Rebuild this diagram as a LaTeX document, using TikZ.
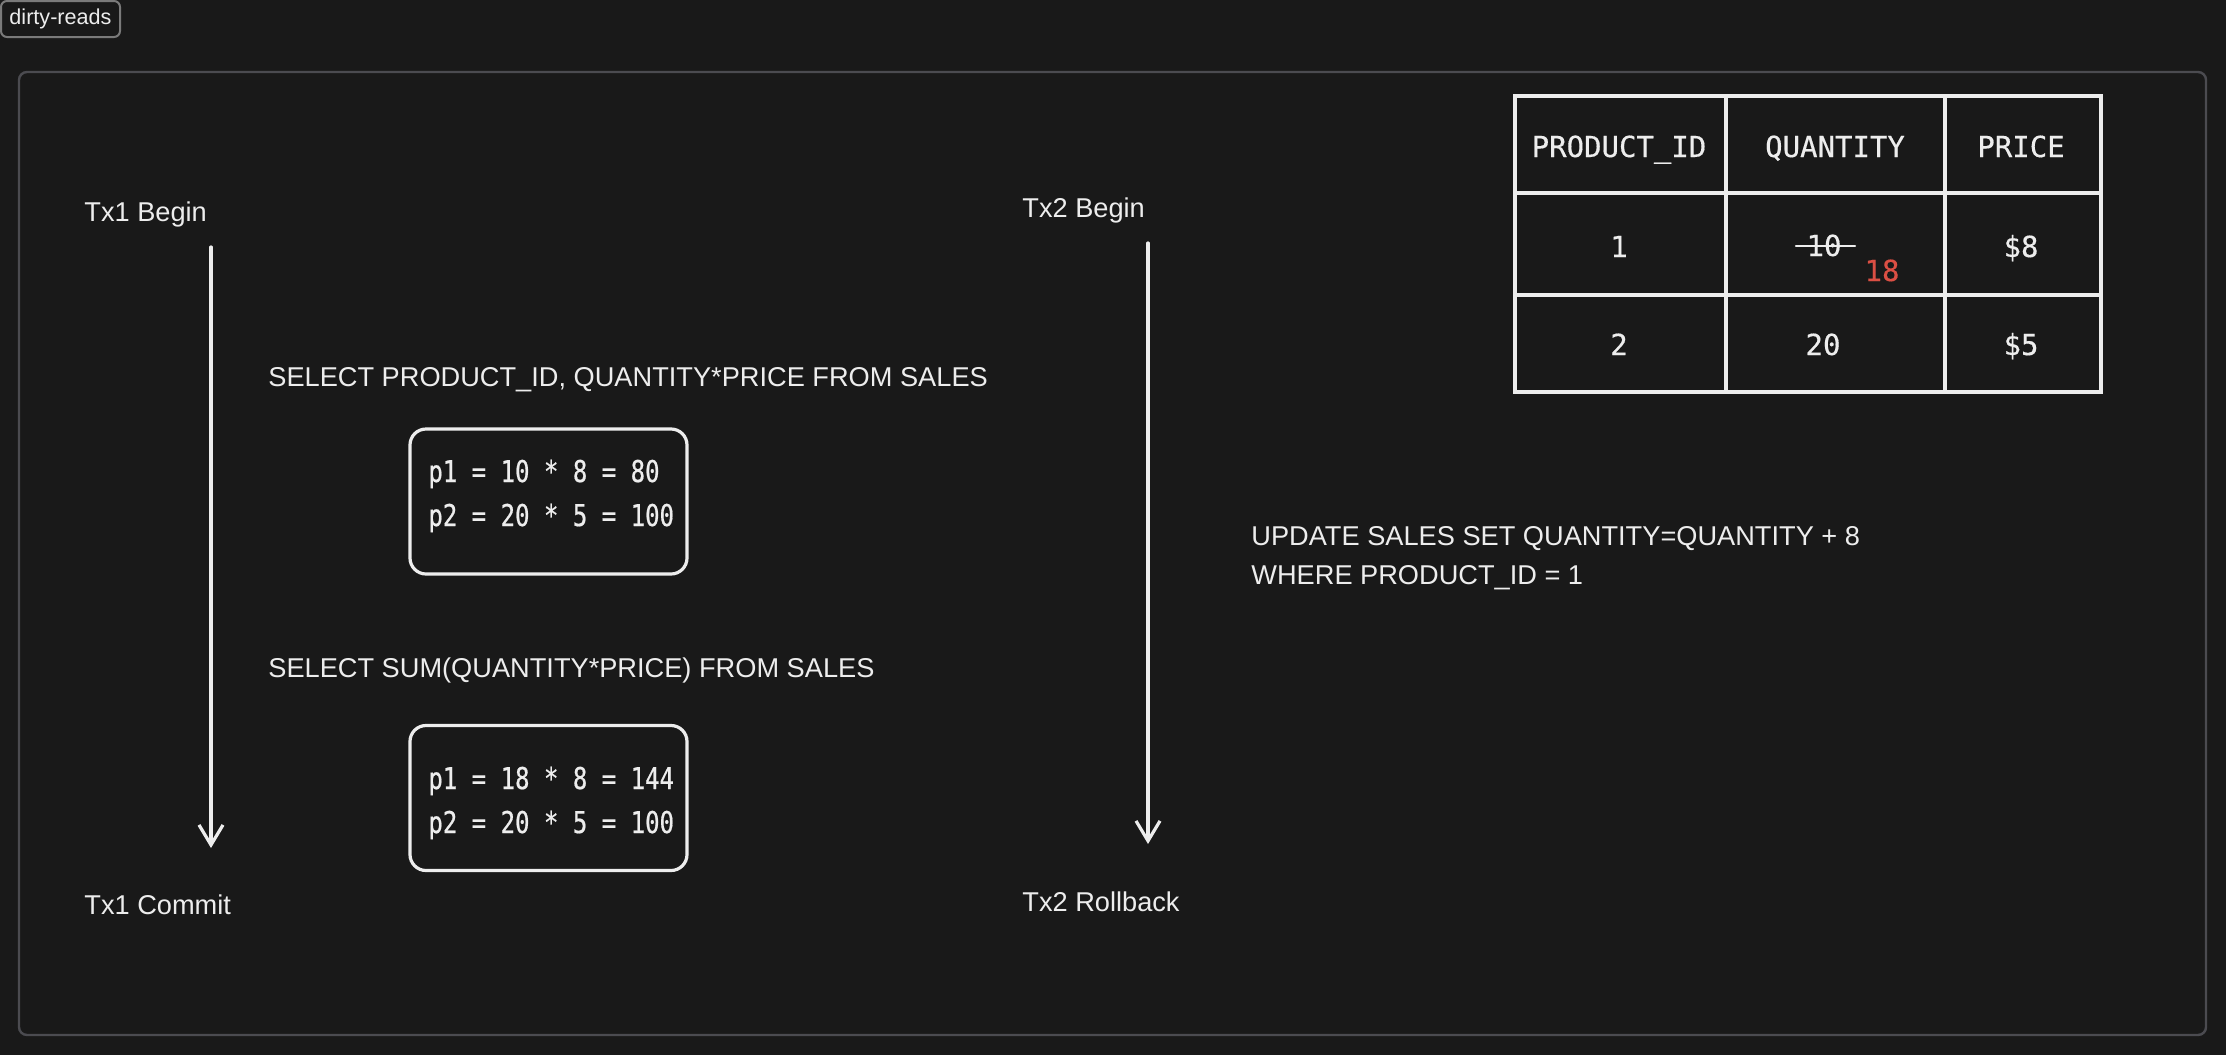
\documentclass[tikz,border=0pt]{standalone}
\usepackage{fontspec}
\setmainfont{Liberation Sans}
\newfontfamily\handmono[FakeStretch=0.8,FakeBold=0.6]{DejaVu Sans Mono}
\newfontfamily\tablemono[FakeBold=0.4]{DejaVu Sans Mono}
\usetikzlibrary{arrows.meta}

\definecolor{bgcol}{HTML}{191919}
\definecolor{framecol}{HTML}{4B4B50}
\definecolor{tagcol}{HTML}{7A7A7A}
\definecolor{inkcol}{HTML}{EDEDED}
\definecolor{redink}{HTML}{DB4F44}

\begin{document}
\begin{tikzpicture}[x=0.5pt, y=-0.5pt,
    ink/.style={draw=inkcol, line width=1.6pt, line cap=round},
    flow/.style={ink, -{Straight Barb[length=10pt, width=12pt, line width=1.6pt]}},
    txt/.style={text=inkcol, font=\fontsize{13.6}{16}\selectfont, inner sep=0pt, anchor=base west},
    cell/.style={text=inkcol, font=\tablemono\fontsize{14.5}{17}\selectfont, inner sep=0pt, anchor=base},
    calc/.style={text=inkcol, font=\handmono\fontsize{15}{18}\selectfont, inner sep=0pt, anchor=base west},
    resbox/.style={ink, rounded corners=8pt, minimum width=138.5pt, minimum height=72.5pt, inner sep=0pt}]
    \fill[bgcol] (0,0) rectangle (2226,1055);
    \useasboundingbox (0,0) rectangle (2226,1055);

    % frame and tag
    \draw[framecol, line width=1.2pt, rounded corners=4pt] (19,72) rectangle (2206,1035);
    \node[draw=tagcol, line width=1pt, rounded corners=3pt, fill=bgcol, minimum width=59.5pt, minimum height=18pt,
        text=inkcol, font=\fontsize{10.8}{12}\selectfont] (tag) at (60.5,19) {dirty-reads};

    % Tx1 timeline
    \node[txt] (tx1begin) at (84,221) {Tx1 Begin};
    \node[txt] (tx1commit) at (84,914) {Tx1 Commit};
    \coordinate (tx1top) at (211,247);
    \coordinate (tx1bot) at (211,848);
    \draw[flow] (tx1top) -- (tx1bot);

    % Tx2 timeline
    \node[txt] (tx2begin) at (1022,217) {Tx2 Begin};
    \node[txt] (tx2rollback) at (1022,911) {Tx2 Rollback};
    \coordinate (tx2top) at (1148,243);
    \coordinate (tx2bot) at (1148,844);
    \draw[flow] (tx2top) -- (tx2bot);

    % queries of Tx1
    \node[txt] (sel1) at (268,386) {SELECT PRODUCT\_ID, QUANTITY*PRICE FROM SALES};
    \node[resbox] (res1) at (548.5,501.5) {};
    \node[calc] (res1a) at (428,482) {p1 = 10 * 8 = 80};
    \node[calc] (res1b) at (428,526) {p2 = 20 * 5 = 100};

    \node[txt] (sel2) at (268,677) {SELECT SUM(QUANTITY*PRICE) FROM SALES};
    \node[resbox] (res2) at (548.5,798) {};
    \node[calc] (res2a) at (428,789) {p1 = 18 * 8 = 144};
    \node[calc] (res2b) at (428,833) {p2 = 20 * 5 = 100};

    % update of Tx2
    \node[txt] (upd1) at (1251,545) {UPDATE SALES SET QUANTITY=QUANTITY + 8};
    \node[txt] (upd2) at (1251,584) {WHERE PRODUCT\_ID = 1};

    % sales table
    \draw[ink] (1515,96) rectangle (2101,392);
    \foreach \x in {1726,1945} {\draw[ink] (\x,96) -- (\x,392);}
    \foreach \y in {193,295} {\draw[ink] (1515,\y) -- (2101,\y);}
    \foreach \txt/\x/\y [count=\i] in {PRODUCT\_ID/1619/157, QUANTITY/1835/157, PRICE/2021/157,
        1/1619/257, \$8/2021/257, 2/1619/355, 20/1823/355, \$5/2021/355}
        {\node[cell] (cell\i) at (\x,\y) {\txt};}
    \node[cell] (oldqty) at (1824,256) {10};
    \draw[ink, line width=1.2pt] (1796,246) -- (1855,246);
    \node[cell, text=redink] (newqty) at (1882,281) {18};
\end{tikzpicture}
\end{document}
